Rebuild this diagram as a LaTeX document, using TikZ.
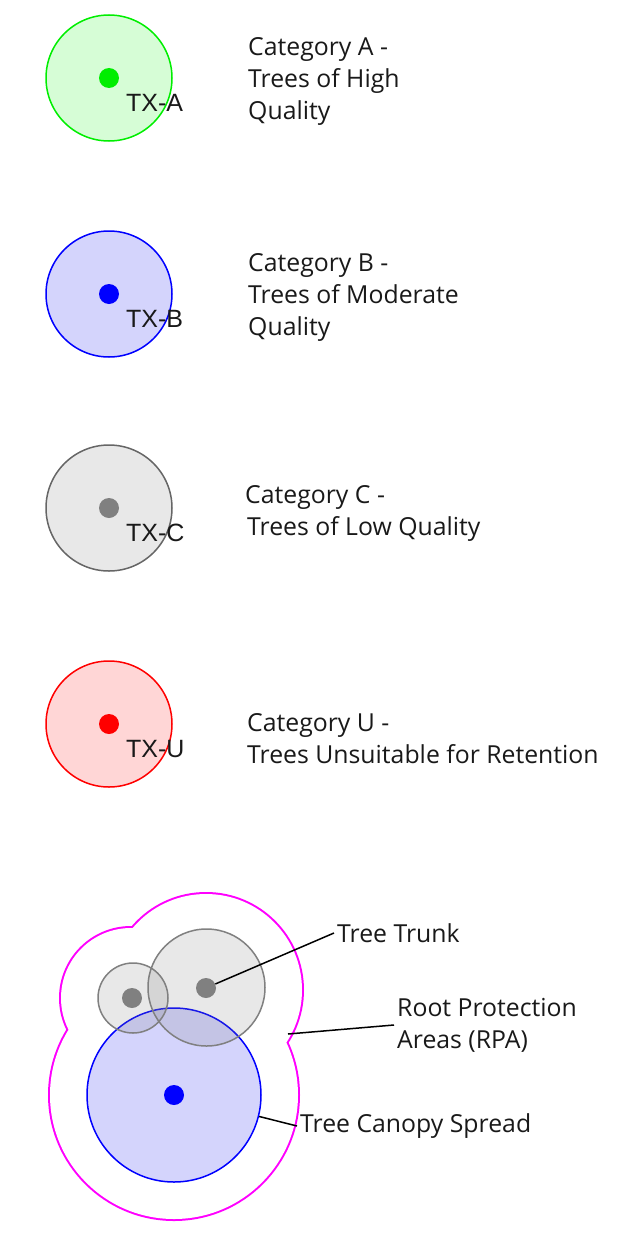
\documentclass[tikz,border=0pt]{standalone}
\usepackage{fontspec}
\setmainfont{Open Sans}
\newfontfamily\arialfont{Liberation Sans}
\definecolor{rpamag}{RGB}{255,0,255}
\definecolor{catgreen}{RGB}{0,238,0}
\definecolor{catgreenfill}{RGB}{214,253,214}
\definecolor{catblue}{RGB}{0,0,255}
\definecolor{catbluefill}{RGB}{212,212,252}
\definecolor{catred}{RGB}{255,0,0}
\definecolor{catredfill}{RGB}{255,214,214}
\definecolor{catgray}{RGB}{102,102,102}
\definecolor{catgrayfill}{RGB}{232,232,232}
\definecolor{dotgray}{RGB}{128,128,128}
\begin{document}
\begin{tikzpicture}[x=1pt,y=-1pt,
  catcircle/.style={circle, inner sep=0pt, minimum size=126pt, line width=1.5pt},
  dot/.style={circle, inner sep=0pt, minimum size=20pt},
  txlabel/.style={font=\arialfont\fontsize{25}{25}\selectfont, inner sep=0pt, anchor=west, text=black!90},
  cattext/.style={font=\fontsize{24.8}{32}\selectfont, align=left, anchor=west, inner sep=0pt, text=black!90},
  lbltext/.style={font=\fontsize{24.8}{32}\selectfont, align=left, anchor=west, inner xsep=3pt, inner ysep=0pt, text=black!90},
  leader/.style={draw=black, line width=1.5pt},
  trunk/.style={circle, inner sep=0pt, draw=dotgray, line width=1.5pt, fill=black!50, fill opacity=0.18},
]
\useasboundingbox (0,0) rectangle (630,1239);

% Category A
\node[catcircle, draw=catgreen, fill=catgreenfill] (ca) at (109,78) {};
\node[dot, fill=catgreen] (cad) at (109,78) {};
\node[txlabel] (tca) at (126,103) {TX-A};
\node[cattext] (la) at (248,81) {Category A -\\Trees of High\\Quality};

% Category B
\node[catcircle, draw=catblue, fill=catbluefill] (cb) at (109,294) {};
\node[dot, fill=catblue] (cbd) at (109,294) {};
\node[txlabel] (tcb) at (126,319) {TX-B};
\node[cattext] (lb) at (248,297) {Category B -\\Trees of Moderate\\Quality};

% Category C
\node[catcircle, draw=catgray, fill=catgrayfill] (cc) at (109,508) {};
\node[dot, fill=dotgray] (ccd) at (109,508) {};
\node[txlabel] (tcc) at (126,533) {TX-C};
\node[cattext] (lc) at (245,513) {Category C -\\\hspace*{2pt}Trees of Low Quality};

% Category U
\node[catcircle, draw=catred, fill=catredfill] (cu) at (109,724) {};
\node[dot, fill=catred] (cud) at (109,724) {};
\node[txlabel] (tcu) at (126,749) {TX-U};
\node[cattext] (lu) at (247,739) {Category U -\\Trees Unsuitable for Retention};

% Root protection areas (union of three circles)
\draw[rpamag, line width=4pt] (131,998) circle[radius=70] (206,990) circle[radius=96] (174,1095) circle[radius=124];
\fill[white] (131,998) circle[radius=70] (206,990) circle[radius=96] (174,1095) circle[radius=124];
\coordinate (rpa) at (288,1034);

% Canopy
\node[circle, inner sep=0pt, minimum size=174pt, draw=catblue, line width=1.5pt, fill=catbluefill] (canopy) at (174,1095) {};
\node[dot, fill=catblue] (canopyd) at (174,1095) {};

% Trunks
\node[trunk, minimum size=70pt] (t1) at (133,998) {};
\node[trunk, minimum size=117pt] (t2) at (206.5,987.5) {};
\node[dot, fill=dotgray] (t1d) at (132,998) {};
\node[dot, fill=dotgray] (t2d) at (206,988) {};

% Labels
\node[lbltext] (trunklbl) at (334,933) {Tree Trunk};
\node[lbltext] (rpalbl) at (394,1025) {Root Protection\\Areas (RPA)};
\node[lbltext] (canopylbl) at (297,1126) {Tree Canopy Spread};

\draw[leader] (t2d) -- (trunklbl.west);
\draw[leader] (rpa) -- (rpalbl.west);
\draw[leader] (canopy) -- (canopylbl.west);
\end{tikzpicture}
\end{document}
